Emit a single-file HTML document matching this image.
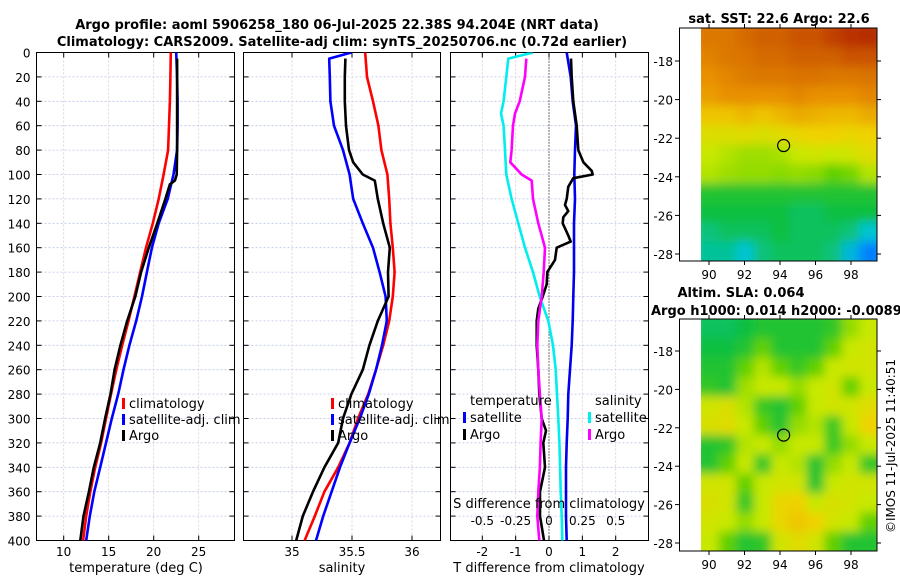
<!DOCTYPE html>
<html><head><meta charset="utf-8"><style>
html,body{margin:0;padding:0;background:#fff}
svg{display:block;font-family:"DejaVu Sans","Liberation Sans",sans-serif}
</style></head><body>
<svg id="fig" width="900" height="580" viewBox="0 0 900 580" xmlns="http://www.w3.org/2000/svg">
<defs>
<filter id="blur" x="0" y="0" width="1" height="1"><feGaussianBlur stdDeviation="5"/></filter>
<clipPath id="c1"><rect x="36.5" y="52.5" width="198" height="488"/></clipPath>
<clipPath id="c2"><rect x="243.5" y="52.5" width="197" height="488"/></clipPath>
<clipPath id="c3"><rect x="450.5" y="52.5" width="198" height="488"/></clipPath>
<clipPath id="cm1"><rect x="701" y="28" width="176" height="233"/></clipPath>
<clipPath id="cm2"><rect x="701" y="319" width="176" height="232"/></clipPath>
</defs>
<g font-weight="bold" font-size="13" text-anchor="middle" fill="#000">
<text x="337" y="29">Argo profile: aoml 5906258_180 06-Jul-2025 22.38S 94.204E (NRT data)</text>
<text x="342" y="46">Climatology: CARS2009. Satellite-adj clim: synTS_20250706.nc (0.72d earlier)</text>
<text x="779" y="23">sat. SST: 22.6 Argo: 22.6</text>
<text x="741" y="297">Altim. SLA: 0.064</text>
<text x="651" y="315" text-anchor="start">Argo h1000: 0.014 h2000: -0.0089</text>
</g>
<g id="plots"></g>
<text transform="translate(895,446) rotate(-90)" font-size="12" text-anchor="middle">©IMOS 11-Jul-2025 11:40:51</text>
</svg>
<script>
// ---------- data ----------
const depthStd = [0,20,40,60,80,100,120,140,160,180,200,220,240,260,280,300,320,340,360,380,400];
const tempClim = [21.9,21.85,21.8,21.7,21.6,21.1,20.55,19.9,19.15,18.5,17.85,17.2,16.5,15.85,15.25,14.7,14.15,13.5,12.95,12.5,12.15];
const tempSat  = [22.5,22.6,22.65,22.65,22.6,22.2,21.55,20.55,19.8,19.25,18.7,18.05,17.3,16.65,16.05,15.35,14.7,14.05,13.4,12.9,12.5];
const depthArgoT = [5,20,40,60,80,100,105,108,120,140,160,180,200,220,240,260,280,300,320,340,360,380,400];
const tempArgo = [22.6,22.6,22.6,22.6,22.6,22.55,22.35,21.8,21.3,20.4,19.45,18.6,17.95,17.05,16.3,15.65,15.2,14.6,14.05,13.35,12.8,12.2,11.85];
const salClim = [35.61,35.625,35.675,35.72,35.745,35.795,35.81,35.82,35.84,35.855,35.84,35.81,35.76,35.70,35.635,35.55,35.48,35.385,35.27,35.19,35.105];
const depthSatS = [0,5,20,40,60,80,100,120,140,160,180,200,220,240,260,280,300,320,340,360,380,400];
const salSat = [35.495,35.31,35.315,35.32,35.35,35.425,35.48,35.51,35.59,35.675,35.73,35.78,35.79,35.75,35.70,35.64,35.565,35.48,35.40,35.33,35.26,35.2];
const depthArgoS = [5,20,40,60,80,90,100,105,120,140,160,180,200,220,240,260,280,300,320,340,360,380,400];
const salArgo = [35.445,35.44,35.44,35.45,35.475,35.51,35.59,35.69,35.715,35.76,35.815,35.8,35.805,35.715,35.645,35.59,35.495,35.425,35.385,35.27,35.175,35.09,35.035];
const tDiffSat = [0.53,0.65,0.71,0.81,0.78,0.76,0.78,0.75,0.75,0.75,0.73,0.71,0.68,0.63,0.58,0.56,0.53,0.51,0.51,0.51,0.53];
const depthDiffArgoT = [5,20,40,60,80,90,97,100,103,110,120,125,130,135,140,150,155,160,170,180,190,200,210,220,240,260,280,300,310,320,340,360,380,400];
const tDiffArgo = [0.66,0.68,0.73,0.83,0.88,1.03,1.28,1.31,0.73,0.58,0.53,0.48,0.58,0.43,0.41,0.58,0.65,0.23,0.18,-0.05,-0.07,-0.19,-0.32,-0.37,-0.37,-0.32,-0.29,-0.22,-0.09,-0.17,-0.12,-0.27,-0.27,-0.15];
const depthDiffSatS = [0,5,20,40,50,60,80,100,120,140,160,180,200,220,240,260,280,300,320,340,360,380,400];
const sDiffSat = [-0.12,-0.305,-0.32,-0.34,-0.36,-0.34,-0.33,-0.32,-0.28,-0.23,-0.18,-0.12,-0.07,-0.005,0.03,0.05,0.06,0.07,0.078,0.083,0.088,0.095,0.10];
const depthDiffArgoS = [5,20,40,50,60,80,90,100,105,120,140,160,180,200,220,240,260,280,300,320,340,360,380,400];
const sDiffArgo = [-0.17,-0.18,-0.22,-0.255,-0.27,-0.28,-0.29,-0.205,-0.13,-0.12,-0.08,-0.03,-0.04,-0.055,-0.08,-0.088,-0.08,-0.068,-0.055,-0.063,-0.068,-0.08,-0.088,-0.073];
const depthTicks = [0,20,40,60,80,100,120,140,160,180,200,220,240,260,280,300,320,340,360,380,400];
const tempTicks = [10,15,20,25];
const salTicks = [35,35.5,36];
const salTickLabels = ["35","35.5","36"];
const tDiffTicks = [-2,-1,0,1,2];
const sDiffTicks = [-0.5,-0.25,0,0.25,0.5];
const sDiffTickLabels = ["-0.5","-0.25","0","0.25","0.5"];
const lonTicks = [90,92,94,96,98];
const latTicks = [-18,-20,-22,-24,-26,-28];
const argoLon = 94.204, argoLat = -22.38;
const sstGrid = [
[0.85,0.85,0.88,0.9,0.9,0.92,0.92,0.95,0.97,0.98],
[0.83,0.85,0.86,0.88,0.88,0.9,0.9,0.9,0.92,0.92],
[0.8,0.82,0.84,0.85,0.85,0.86,0.86,0.85,0.85,0.86],
[0.78,0.8,0.8,0.8,0.8,0.82,0.8,0.8,0.8,0.82],
[0.72,0.72,0.74,0.72,0.74,0.76,0.75,0.74,0.74,0.76],
[0.65,0.65,0.66,0.64,0.66,0.68,0.7,0.7,0.68,0.7],
[0.6,0.58,0.56,0.56,0.57,0.6,0.62,0.6,0.62,0.66],
[0.58,0.56,0.55,0.55,0.54,0.55,0.54,0.5,0.52,0.58],
[0.42,0.42,0.42,0.42,0.42,0.42,0.42,0.42,0.42,0.42],
[0.4,0.4,0.4,0.4,0.4,0.38,0.38,0.4,0.4,0.4],
[0.36,0.38,0.38,0.38,0.4,0.38,0.38,0.38,0.36,0.3],
[0.34,0.34,0.3,0.36,0.38,0.38,0.38,0.36,0.28,0.2]];
const slaGrid = [
[0.38,0.38,0.4,0.42,0.42,0.42,0.42,0.44,0.55,0.6],
[0.4,0.4,0.42,0.5,0.42,0.42,0.42,0.5,0.6,0.62],
[0.42,0.42,0.5,0.58,0.5,0.45,0.5,0.6,0.62,0.62],
[0.44,0.42,0.56,0.6,0.6,0.55,0.6,0.62,0.5,0.6],
[0.62,0.64,0.58,0.45,0.42,0.5,0.6,0.62,0.62,0.66],
[0.64,0.66,0.6,0.5,0.42,0.55,0.58,0.45,0.6,0.7],
[0.42,0.44,0.58,0.6,0.55,0.6,0.6,0.45,0.55,0.6],
[0.42,0.5,0.6,0.44,0.6,0.58,0.42,0.55,0.6,0.44],
[0.62,0.62,0.5,0.6,0.62,0.62,0.42,0.6,0.62,0.62],
[0.64,0.62,0.44,0.6,0.68,0.7,0.6,0.64,0.62,0.6],
[0.62,0.6,0.55,0.6,0.68,0.72,0.7,0.62,0.6,0.5],
[0.6,0.5,0.42,0.44,0.62,0.66,0.62,0.5,0.42,0.42]];

// ---------- helpers ----------
const NS = "http://www.w3.org/2000/svg";
const root = document.getElementById('plots');
function mk(tag, attrs, parent){ const e=document.createElementNS(NS,tag); for(const k in attrs) e.setAttribute(k,attrs[k]); (parent||root).appendChild(e); return e; }
const Y0=52.5, Y1=540.5;
const yD = d => Y0 + d/400*(Y1-Y0);
function linScale(d0,d1,r0,r1){ return v => r0 + (v-d0)/(d1-d0)*(r1-r0); }

function panelFrame(name, x0, x1, xs, ticks, labels, grid, showY){
  const g = mk('g',{});
  
  
  depthTicks.forEach(d=>{
    if(d>0 && d<400){ const l=mk('line',{x1:x0,x2:x1,y1:yD(d),y2:yD(d),stroke:'#b8c4e8','stroke-width':0.8,'stroke-dasharray':'2,2'},g);
        }
    mk('line',{x1:x0,x2:x0+5,y1:yD(d),y2:yD(d),stroke:'#000','stroke-width':1},g);
    mk('line',{x1:x1-5,x2:x1,y1:yD(d),y2:yD(d),stroke:'#000','stroke-width':1},g);
    if(showY){ const t=mk('text',{x:x0-6,y:yD(d)+5,'font-size':12,'text-anchor':'end'},g); t.textContent=d;
        }
  });
  grid.forEach(v=>{ const l=mk('line',{x1:xs(v),x2:xs(v),y1:Y0,y2:Y1,stroke:'#e0c8c8','stroke-width':0.8,'stroke-dasharray':'2,2'},g);
      });
  ticks.forEach((v,i)=>{
    mk('line',{x1:xs(v),x2:xs(v),y1:Y1,y2:Y1-5,stroke:'#000'},g);
    mk('line',{x1:xs(v),x2:xs(v),y1:Y0,y2:Y0+5,stroke:'#000'},g);
    const t=mk('text',{x:xs(v),y:556,'font-size':12,'text-anchor':'middle'},g); t.textContent=labels[i];
     
  });
  const b=mk('rect',{x:x0,y:Y0,width:x1-x0,height:Y1-Y0,fill:'none',stroke:'#000','stroke-width':1},g);
   
  return g;
}
function series(vals, depths, xs, color, clip, name){
  const pts = vals.map((v,i)=>xs(v).toFixed(1)+','+yD(depths[i]).toFixed(1)).join(' ');
  const p = mk('polyline',{points:pts,fill:'none',stroke:color,'stroke-width':2.6,'stroke-linejoin':'round','clip-path':'url(#'+clip+')'});
  
  
}
function legendEntry(x,y,color,label,name){
  const g=mk('g',{});
  
  
  mk('rect',{x:x,y:y-10,width:3,height:11,fill:color},g);
  const t=mk('text',{x:x+7,y:y,'font-size':13},g); t.textContent=label;
}
function txt(x,y,s,name,size,anchor){
  const t=mk('text',{x:x,y:y,'font-size':size||13,'text-anchor':anchor||'middle'}); t.textContent=s;
  
  
}

// ---------- panel 1: temperature ----------
const xT = linScale(10,25,63.7,198.7);
panelFrame('temperature-panel',36.5,234.5,xT,tempTicks,tempTicks.map(String),tempTicks,true);
series(tempClim, depthStd, xT, '#ff0000','c1','temp-climatology-line');
series(tempSat, depthStd, xT, '#0000ff','c1','temp-satellite-line');
series(tempArgo, depthArgoT, xT, '#000000','c1','temp-argo-line');
legendEntry(122,408,'#ff0000','climatology','legend-climatology');
legendEntry(122,424,'#0000ff','satellite-adj. clim','legend-satellite-adj');
legendEntry(122,440,'#000000','Argo','legend-argo');
txt(136,572,'temperature (deg C)','temperature-axis-title');

// ---------- panel 2: salinity ----------
const xS = linScale(35,36,292,412);
panelFrame('salinity-panel',243.5,440.5,xS,salTicks,salTickLabels,salTicks,false);
series(salClim, depthStd, xS, '#ff0000','c2','sal-climatology-line');
series(salSat, depthSatS, xS, '#0000ff','c2','sal-satellite-line');
series(salArgo, depthArgoS, xS, '#000000','c2','sal-argo-line');
legendEntry(331,408,'#ff0000','climatology','legend-climatology-2');
legendEntry(331,424,'#0000ff','satellite-adj. clim','legend-satellite-adj-2');
legendEntry(331,440,'#000000','Argo','legend-argo-2');
txt(342,572,'salinity','salinity-axis-title');

// ---------- panel 3: differences ----------
const xTd = linScale(-2,2,482.3,615.7);
const xSd = linScale(-0.5,0.5,482.3,615.7);
const g3 = panelFrame('difference-panel',450.5,648.5,xTd,tDiffTicks,tDiffTicks.map(String),tDiffTicks,false);
const zl = mk('line',{x1:xTd(0),x2:xTd(0),y1:Y0,y2:Y1,stroke:'#000','stroke-width':1,'stroke-dasharray':'1,2'});
 
series(tDiffSat, depthStd, xTd, '#0000ee','c3','tdiff-satellite-line');
series(tDiffArgo, depthDiffArgoT, xTd, '#000000','c3','tdiff-argo-line');
series(sDiffSat, depthDiffSatS, xSd, '#00eeee','c3','sdiff-satellite-line');
series(sDiffArgo, depthDiffArgoS, xSd, '#ff00ff','c3','sdiff-argo-line');
txt(470,405,'temperature','legend-temperature-header',13,'start');
legendEntry(463,422,'#0000ff','satellite','legend-tdiff-satellite');
legendEntry(463,439,'#000000','Argo','legend-tdiff-argo');
txt(595,405,'salinity','legend-salinity-header',13,'start');
legendEntry(588,422,'#00eeee','satellite','legend-sdiff-satellite');
legendEntry(588,439,'#ff00ff','Argo','legend-sdiff-argo');
txt(549,508,'S difference from climatology','s-diff-axis-title');
sDiffTicks.forEach((v,i)=>{ txt(xSd(v),525,sDiffTickLabels[i],'s-diff-tick-label',12); });
txt(549,572,'T difference from climatology','t-diff-axis-title');

// ---------- maps ----------
const cmapStops=[[0.2,[0,128,255]],[0.3,[0,196,210]],[0.4,[16,192,64]],[0.5,[96,208,0]],[0.6,[200,232,0]],[0.7,[240,210,0]],[0.8,[232,144,0]],[0.9,[208,96,0]],[1.0,[176,32,0]]];
function cmap(v){ if(v<=cmapStops[0][0]) return 'rgb('+cmapStops[0][1]+')';
  for(let i=1;i<cmapStops.length;i++){ if(v<=cmapStops[i][0]){ const a=cmapStops[i-1],b=cmapStops[i],t=(v-a[0])/(b[0]-a[0]);
    return 'rgb('+a[1].map((c,k)=>Math.round(c+(b[1][k]-c)*t)).join(',')+')'; } }
  return 'rgb('+cmapStops[cmapStops.length-1][1]+')'; }
function mapPanel(name, grid, top, bottom, latAt18, pxPerLat, clip, blur){
  const g=mk('g',{});
  
  
  const xL = lon => 709 + (lon-90)*17.75;
  const yL = lat => latAt18 + (-18-lat)*pxPerLat;
  const x0=701,x1=877, rows=grid.length, cols=grid[0].length, cw=(x1-x0)/cols, ch=(bottom-top)/rows;
  const img=mk('g',{'clip-path':'url(#'+clip+')'},g);
  const inner=mk('g',{filter:blur?'url(#blur)':''},img);
  mk('rect',{x:x0,y:top,width:x1-x0,height:bottom-top,fill:cmap(grid[0][0])},inner);
  grid.forEach((row,r)=>row.forEach((v,c)=>{
    const cell=mk('rect',{x:x0+c*cw-(c==0?8:0),y:top+r*ch-(r==0?8:0),width:cw+0.6+(c==0||c==cols-1?8:0),height:ch+0.6+(r==0||r==rows-1?8:0),fill:cmap(v)},inner);
    
    
  }));
  const circ=mk('circle',{cx:xL(argoLon),cy:yL(argoLat),r:6,fill:'none',stroke:'#000','stroke-width':1.2},g);
   
  lonTicks.forEach(l=>{ mk('line',{x1:xL(l),x2:xL(l),y1:bottom,y2:bottom+4,stroke:'#000'},g);
    mk('line',{x1:xL(l),x2:xL(l),y1:top,y2:top-4,stroke:'#000'},g);
    const t=mk('text',{x:xL(l),y:bottom+18,'font-size':12,'text-anchor':'middle'},g); t.textContent=l;
      });
  latTicks.forEach(l=>{ mk('line',{x1:679,x2:675,y1:yL(l),y2:yL(l),stroke:'#000'},g);
    mk('line',{x1:877,x2:881,y1:yL(l),y2:yL(l),stroke:'#000'},g);
    const t=mk('text',{x:673,y:yL(l)+5,'font-size':12,'text-anchor':'end'},g); t.textContent=l;
      });
  mk('rect',{x:679.5,y:top,width:197.5,height:bottom-top,fill:'none',stroke:'#000','stroke-width':1},g);
}
mapPanel('sst-map', sstGrid, 28, 261, 61, 19.3, 'cm1', true);
mapPanel('sla-map', slaGrid, 319, 551, 351, 19.2, 'cm2', true);
</script>
</body></html>
